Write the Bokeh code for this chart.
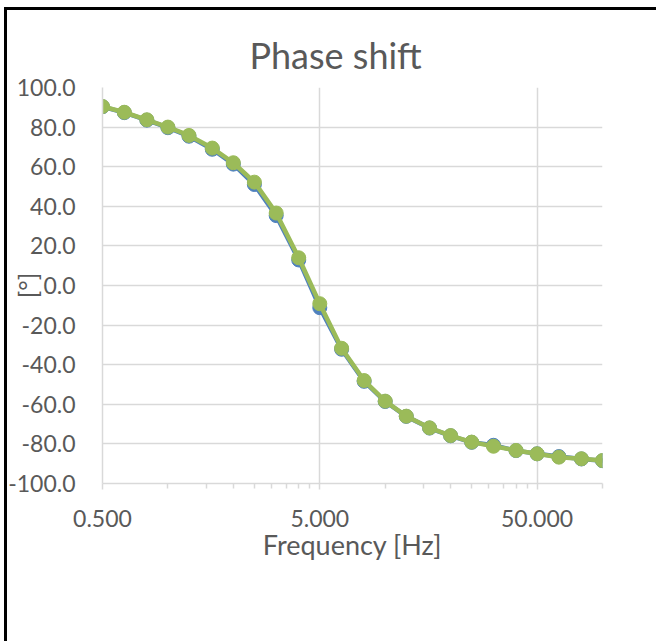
from bokeh.plotting import figure
from bokeh.models import FixedTicker, PrintfTickFormatter, Range1d
from bokeh.embed import file_html
from bokeh.resources import INLINE

freq = [0.5, 0.63, 0.8, 1.0, 1.25, 1.6, 2.0, 2.5, 3.15, 4.0, 5.0, 6.3, 8.0,
        10.0, 12.5, 16.0, 20.0, 25.0, 31.5, 40.0, 50.0, 63.0, 80.0, 100.0]
phase_blue = [90.3, 87.3, 83.5, 79.7, 75.4, 68.8, 61.3, 51.0, 35.3, 12.9, -11.2,
              -32.2, -48.4, -58.6, -66.1, -72.0, -75.9, -79.2, -80.7, -83.4,
              -85.0, -86.4, -87.6, -88.5]
phase_green = [90.4, 87.5, 83.7, 80.0, 75.8, 69.4, 62.0, 52.2, 36.6, 14.0, -9.2,
               -31.7, -48.0, -58.4, -66.0, -71.9, -75.8, -79.1, -81.2, -83.3,
               -85.0, -86.7, -87.5, -88.4]
x_major = [0.5, 5, 50]
x_minor = [1, 1.5, 2, 2.5, 3, 3.5, 4, 4.5, 10, 15, 20, 25, 30, 35, 40, 45, 100]
y_ticks = [-100, -80, -60, -40, -20, 0, 20, 40, 60, 80, 100]

FONT = "Lato"
TXT = "#595959"
GRID = "#d9d9d9"

p = figure(x_axis_type="log", output_backend="svg", toolbar_location=None,
           frame_width=500, frame_height=396,
           min_border_left=95, min_border_right=54, min_border_top=77,
           min_border_bottom=158,
           x_range=Range1d(0.5, 100), y_range=Range1d(-100, 100),
           title="Phase shift")
p.styles = {"margin-left": "4px", "margin-top": "7px",
            "border-top": "3px solid black", "border-left": "3px solid black"}
p.outline_line_color = None
p.background_fill_color = "white"
p.border_fill_color = "white"

p.title.text_font = FONT
p.title.text_font_size = "36px"
p.title.text_font_style = "normal"
p.title.text_color = TXT
p.title.align = "left"
p.title.offset = 147
p.title.standoff = 21

xa = p.xaxis[0]
xa.ticker = FixedTicker(ticks=x_major, minor_ticks=x_minor)
xa.formatter = PrintfTickFormatter(format="%.3f")
xa.axis_label = "Frequency [Hz]"
xa.axis_label_text_font = FONT
xa.axis_label_text_font_size = "27px"
xa.axis_label_text_font_style = "normal"
xa.axis_label_text_color = TXT
xa.axis_label_standoff = -2
xa.major_label_text_font = FONT
xa.major_label_text_font_size = "23px"
xa.major_label_text_color = TXT
xa.major_label_standoff = 20
xa.axis_line_color = GRID
xa.axis_line_width = 1.5
xa.major_tick_line_color = GRID
xa.minor_tick_line_color = GRID
xa.major_tick_line_width = 1.5
xa.minor_tick_line_width = 1.5
xa.major_tick_out = 6
xa.major_tick_in = 0
xa.minor_tick_out = 5
xa.minor_tick_in = 0

ya = p.yaxis[0]
ya.ticker = FixedTicker(ticks=y_ticks)
ya.formatter = PrintfTickFormatter(format="%.1f")
ya.axis_label = "[°]"
ya.axis_label_text_font = FONT
ya.axis_label_text_font_size = "25px"
ya.axis_label_text_font_style = "normal"
ya.axis_label_text_color = TXT
ya.axis_label_standoff = -37
ya.major_label_text_font = FONT
ya.major_label_text_font_size = "23px"
ya.major_label_text_color = TXT
ya.major_label_standoff = 27
ya.axis_line_color = GRID
ya.axis_line_width = 1.5
ya.major_tick_out = 0
ya.major_tick_in = 0
ya.minor_tick_line_color = None

p.xgrid.ticker = FixedTicker(ticks=x_major)
p.xgrid.grid_line_color = GRID
p.xgrid.grid_line_width = 1.5
p.ygrid.grid_line_color = GRID
p.ygrid.grid_line_width = 1.5

BLUE = "#4f81bd"
GREEN = "#9bbb59"
p.line(freq, phase_blue, line_color=BLUE, line_width=4.5)
p.scatter(freq, phase_blue, size=14, fill_color=BLUE, line_color=BLUE)
p.line(freq, phase_green, line_color=GREEN, line_width=4.5)
p.scatter(freq, phase_green, size=14, fill_color=GREEN, line_color=GREEN)

open("out.html", "w").write(file_html(p, INLINE))
